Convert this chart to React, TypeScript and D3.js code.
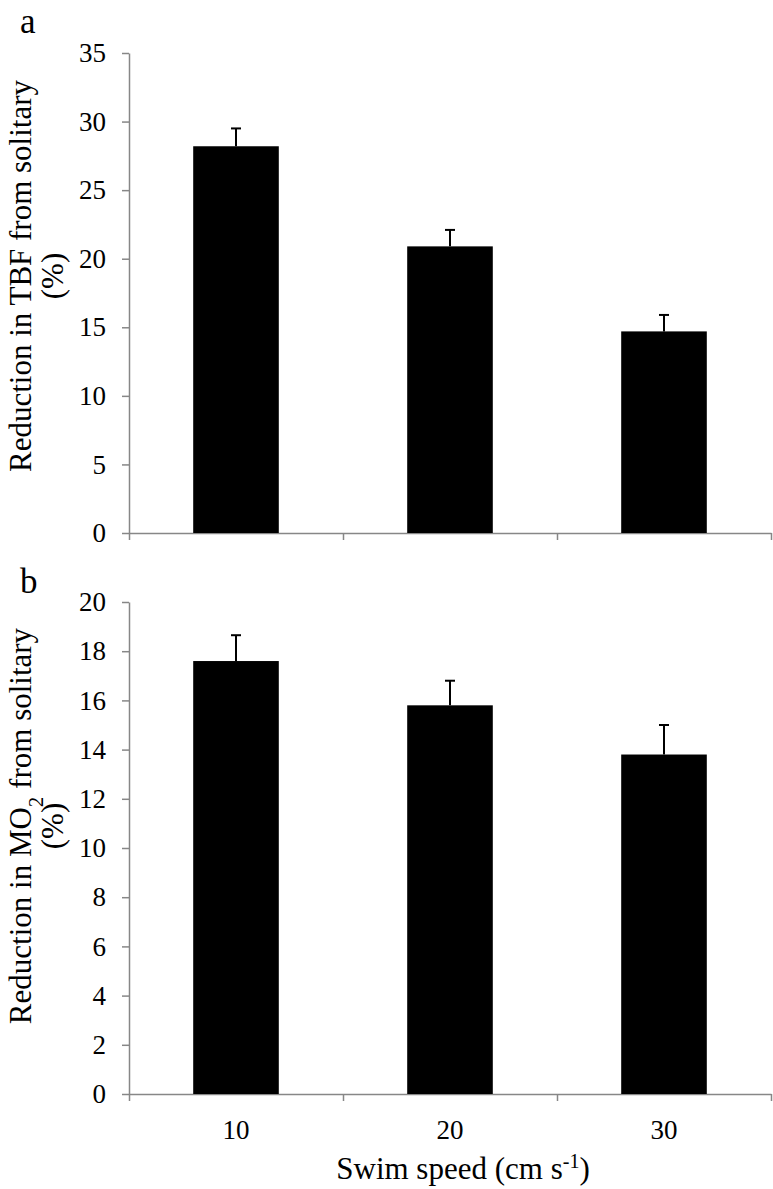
import React, { useEffect, useRef } from "react";
import * as d3 from "d3";

// swim speeds (cm s-1)
const speeds = ["10", "20", "30"];

// panel a: reduction in tail beat frequency (%)
const tbfMean = [28.2, 20.9, 14.7];
const tbfErr = [1.3, 1.2, 1.2];
const tbfTicks = [0, 5, 10, 15, 20, 25, 30, 35];

// panel b: reduction in MO2 (%)
const mo2Mean = [17.6, 15.8, 13.8];
const mo2Err = [1.05, 1.0, 1.2];
const mo2Ticks = [0, 2, 4, 6, 8, 10, 12, 14, 16, 18, 20];

const W = 773;
const H = 1189;
const FONT = "'Liberation Serif', 'Times New Roman', serif";
const AXIS = "#878787";

function App() {
    const ref = useRef<SVGSVGElement>(null);

    useEffect(() => {
        const svg = d3.select(ref.current);
        svg.selectAll("*").remove();

        const left = 129;
        const right = 771;

        const x = d3.scaleBand().domain(speeds).range([left, right]).padding(0);
        const xb = d3.scaleLinear().domain([0, speeds.length]).range([left, right]);

        function panel(opts) {
            const { top, bottom, max, ticks, means, errs, letter, letterY, title, titleY } = opts;
            const y = d3.scaleLinear().domain([0, max]).range([bottom, top]);
            const g = svg.append("g");

            // y axis
            const ya = g
                .append("g")
                .attr("transform", `translate(${left},0)`)
                .call(d3.axisLeft(y).tickValues(ticks).tickSize(7).tickSizeOuter(0).tickPadding(16));
            ya.attr("font-family", FONT);
            ya.select(".domain").attr("stroke", AXIS).attr("stroke-width", 1.5);
            ya.selectAll(".tick line").attr("stroke", AXIS).attr("stroke-width", 1.5);
            ya.selectAll(".tick text")
                .attr("fill", "#000")
                .style("font-family", FONT)
                .style("font-size", "27px");

            // x axis (ticks between categories)
            const xa = g
                .append("g")
                .attr("transform", `translate(0,${bottom})`)
                .call(d3.axisBottom(xb).tickValues(d3.range(speeds.length + 1)).tickFormat(() => "").tickSize(7).tickSizeOuter(0));
            xa.select(".domain").attr("stroke", AXIS).attr("stroke-width", 1.5);
            xa.selectAll(".tick line").attr("stroke", AXIS).attr("stroke-width", 1.5);

            const bw = x.bandwidth() * 0.4;

            // bars
            g.selectAll(".bar")
                .data(means)
                .enter()
                .append("rect")
                .attr("x", (_, i) => x(speeds[i]) + (x.bandwidth() - bw) / 2)
                .attr("y", (d) => y(d))
                .attr("width", bw)
                .attr("height", (d) => bottom - y(d))
                .attr("fill", "#000");

            // error bars (upper only)
            const eb = g.selectAll(".err").data(means).enter().append("g");
            eb.append("line")
                .attr("x1", (_, i) => x(speeds[i]) + x.bandwidth() / 2)
                .attr("x2", (_, i) => x(speeds[i]) + x.bandwidth() / 2)
                .attr("y1", (d) => y(d))
                .attr("y2", (d, i) => y(d + errs[i]))
                .attr("stroke", "#000")
                .attr("stroke-width", 2);
            eb.append("line")
                .attr("x1", (_, i) => x(speeds[i]) + x.bandwidth() / 2 - 5)
                .attr("x2", (_, i) => x(speeds[i]) + x.bandwidth() / 2 + 5)
                .attr("y1", (d, i) => y(d + errs[i]))
                .attr("y2", (d, i) => y(d + errs[i]))
                .attr("stroke", "#000")
                .attr("stroke-width", 2);

            // panel letter
            g.append("text")
                .attr("x", 20)
                .attr("y", letterY)
                .style("font-family", FONT)
                .style("font-size", "35px")
                .text(letter);

            // y title, two lines
            const t = g
                .append("text")
                .attr("transform", `translate(0,${titleY}) rotate(-90)`)
                .attr("text-anchor", "middle")
                .style("font-family", FONT)
                .style("font-size", "31px");
            title(t.append("tspan").attr("x", 0).attr("y", 31));
            t.append("tspan").attr("x", 0).attr("y", 63).text("(%)");

            return y;
        }

        panel({
            top: 53,
            bottom: 533,
            max: 35,
            ticks: tbfTicks,
            means: tbfMean,
            errs: tbfErr,
            letter: "a",
            letterY: 33,
            titleY: 276,
            title: (s) => s.text("Reduction in TBF from solitary"),
        });

        panel({
            top: 602,
            bottom: 1094,
            max: 20,
            ticks: mo2Ticks,
            means: mo2Mean,
            errs: mo2Err,
            letter: "b",
            letterY: 593,
            titleY: 826,
            title: (s) => {
                s.append("tspan").text("Reduction in MO");
                s.append("tspan").attr("baseline-shift", "sub").style("font-size", "21px").text("2");
                s.append("tspan").text(" from solitary");
            },
        });

        // x category labels
        svg.selectAll(".xl")
            .data(speeds)
            .enter()
            .append("text")
            .attr("x", (d) => x(d) + x.bandwidth() / 2)
            .attr("y", 1139)
            .attr("text-anchor", "middle")
            .style("font-family", FONT)
            .style("font-size", "27px")
            .text((d) => d);

        const xt = svg
            .append("text")
            .attr("x", 463)
            .attr("y", 1179)
            .attr("text-anchor", "middle")
            .style("font-family", FONT)
            .style("font-size", "31px");
        xt.append("tspan").text("Swim speed (cm s");
        xt.append("tspan").attr("baseline-shift", "super").style("font-size", "20px").text("-1");
        xt.append("tspan").text(")");
    }, []);

    return (
        <svg
            ref={ref}
            width={W}
            height={H}
            style={{ position: "absolute", left: 0, top: 0, background: "#fff" }}
        />
    );
}

export default App;
